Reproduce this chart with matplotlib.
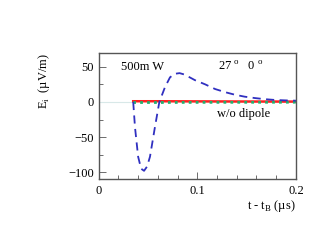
import matplotlib
matplotlib.use("Agg")
import matplotlib.pyplot as plt
from matplotlib.ticker import MultipleLocator

plt.rcParams.update({
    "font.family": "serif",
    "font.serif": ["Liberation Serif", "DejaVu Serif"],
    "mathtext.fontset": "custom",
    "mathtext.rm": "Liberation Serif",
    "font.size": 9,
})

# full calculation (dashed blue)
t_full = [0.035, 0.0368, 0.040, 0.043, 0.046, 0.049, 0.052, 0.057, 0.0615,
          0.0672, 0.0723, 0.077, 0.082, 0.087, 0.0976, 0.108, 0.118, 0.128,
          0.138, 0.148, 0.158, 0.168, 0.179, 0.19, 0.2]
e_full = [0, -36, -78, -95, -98, -92, -78, -36, 0,
          21, 35, 40, 41, 39, 31, 25, 18.4, 14,
          10.3, 7.5, 5.6, 4, 2.8, 2.2, 1.8]

# without dipole (red solid, green dotted)
t_nodip = [0.035, 0.06, 0.1, 0.15, 0.2]
e_red = [1.0, 1.0, 0.8, 0.6, 0.5]
e_green = [-0.8, -0.8, -0.6, -0.5, -0.4]

fig = plt.figure(figsize=(3.34, 2.5), dpi=100)
ax = fig.add_axes([0.2955, 0.283, 0.5905, 0.506])

ax.plot([0, 0.035], [0, 0], color="#d8e8e8", lw=0.8)
ax.plot(t_nodip, e_red, color="#ff2020", lw=1.8)
ax.plot(t_nodip, e_green, color="#20b070", lw=2.0, ls=(0, (1, 1.5)))
ax.plot(t_full, e_full, color="#3030c0", lw=1.3, ls=(0, (4.5, 3)))

ax.set_xlim(0, 0.2)
ax.set_ylim(-110, 70)
ax.xaxis.set_major_locator(MultipleLocator(0.1))
ax.xaxis.set_minor_locator(MultipleLocator(0.02))
ax.yaxis.set_major_locator(MultipleLocator(50))
ax.yaxis.set_minor_locator(MultipleLocator(25))
ax.xaxis.set_major_formatter(plt.FuncFormatter(lambda v, p: "0" if v == 0 else f"{v:g}"))
ax.tick_params(which="both", direction="in", colors="#555555", labelcolor="black",
               top=False, right=False, labelsize=9)
ax.tick_params(which="major", length=5, width=0.6)
ax.tick_params(which="minor", length=3, width=0.6)
ax.tick_params(axis="x", pad=4.5)
for s in ax.spines.values():
    s.set_color("#555555")
    s.set_linewidth(1.0)

ax.text(0.023, 50, "500m W", ha="left", va="center", fontsize=9)
ax.text(0.121, 50, "27 $^{\\mathrm{o}}$   0 $^{\\mathrm{o}}$", ha="left", va="center", fontsize=9)
ax.text(0.12, -17, "w/o dipole", ha="left", va="center", fontsize=9)

ax.set_ylabel("E$_{\\mathrm{i}}$  (\u00b5V/m)", fontsize=9, loc="top")
ax.yaxis.set_label_coords(-0.235, 1.0)
ax.set_xlabel("t - t$_{\\mathrm{B}}$ (\u00b5s)", fontsize=9, loc="right")
ax.xaxis.set_label_coords(1.0, -0.15)

fig.savefig("out.png", dpi=100)
